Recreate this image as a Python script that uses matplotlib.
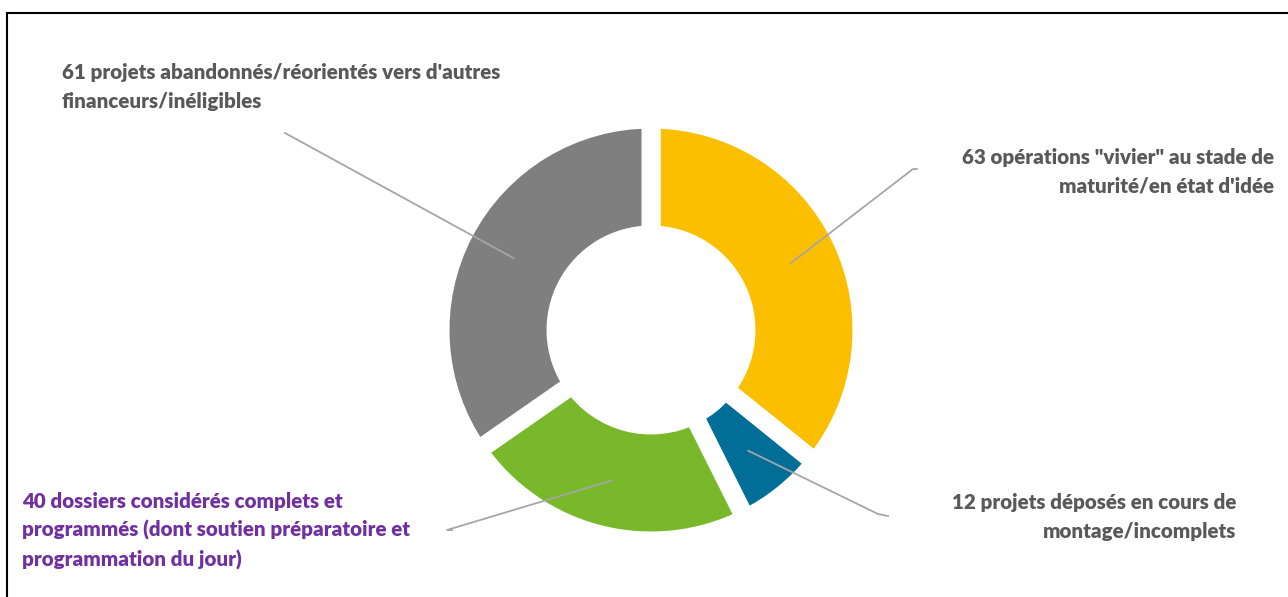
import numpy as np
import matplotlib.pyplot as plt
from matplotlib.patches import Rectangle

# données (sens horaire depuis le haut)
labels = [
    "63 opérations \"vivier\" au stade de\nmaturité/en état d'idée",
    "12 projets déposés en cours de\nmontage/incomplets",
    "40 dossiers considérés complets et\nprogrammés (dont soutien préparatoire et\nprogrammation du jour)",
    "61 projets abandonnés/réorientés vers d'autres\nfinanceurs/inéligibles",
]
values = [63, 12, 40, 61]
colors = ['#FBBF00', '#006E96', '#78B82A', '#7F7F7F']
text_colors = ['#595959', '#595959', '#7030A0', '#595959']

W, H = 1288, 597
fig = plt.figure(figsize=(W / 100, H / 100), dpi=100)

# cadre
fig.patches.append(Rectangle((7 / W, -0.1), 1.2, (H - 13) / H + 0.1,
                             transform=fig.transFigure, fill=False,
                             edgecolor='black', linewidth=1.5))

cx, cy, R = 651, H - 330, 211
ax = fig.add_axes([(cx - R) / W, (cy - R) / H, 2 * R / W, 2 * R / H])
wedges, _ = ax.pie(values, colors=colors, startangle=90, counterclock=False,
                   wedgeprops=dict(width=0.55, edgecolor='white', linewidth=13.7))
ax.set_xlim(-1, 1)
ax.set_ylim(-1, 1)

# positions des étiquettes (pixels), alignement, extrémité des traits
label_pos = [(1274, 172, 'right'), (1236, 517, 'right'), (22, 531, 'left'), (62, 87, 'left')]
line_end = [[(917, 169), (913, 169)], [(888, 516), (878, 514)],
            [(452, 530), (447, 530)], [(285, 133), (285, 133)]]

for w, (tx, ty, ha), tc, lab, ends in zip(wedges, label_pos, text_colors, labels, line_end):
    ang = np.deg2rad((w.theta1 + w.theta2) / 2)
    r = 0.735
    start = (r * np.cos(ang), r * np.sin(ang))
    pts = [ax.transData.transform(start)] + [(x, H - y) for x, y in reversed(ends)]
    pts = np.array(pts)
    fig.add_artist(plt.Line2D(pts[:, 0] / W, pts[:, 1] / H, transform=fig.transFigure,
                              color='#A6A6A6', lw=1.3, zorder=5))
    fig.text(tx / W, 1 - ty / H, lab, ha=ha, va='center', multialignment=ha,
             color=tc, fontsize=14.75, fontweight='heavy', family='Lato', linespacing=1.6)

fig.savefig('out.png', dpi=100)
